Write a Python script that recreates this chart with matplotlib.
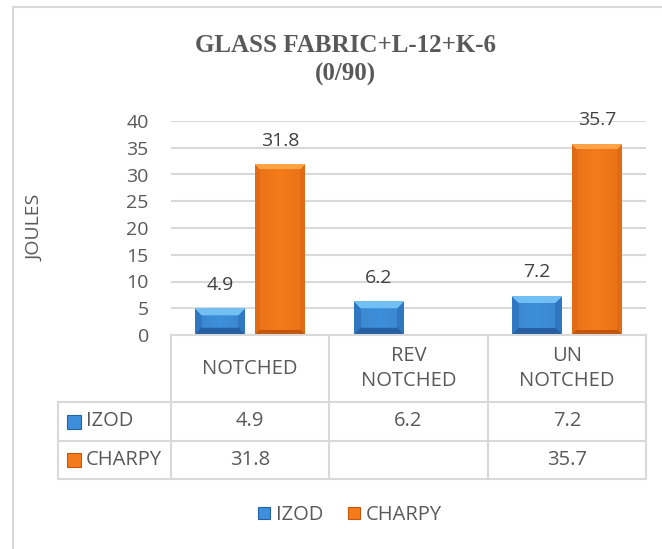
import numpy as np
import matplotlib.pyplot as plt
from matplotlib.patches import Patch, Rectangle
from matplotlib.lines import Line2D

categories = ["NOTCHED", "REV\nNOTCHED", "UN\nNOTCHED"]
series_names = ["IZOD", "CHARPY"]
izod = [4.9, 6.2, 7.2]
charpy = [31.8, None, 35.7]
y_ticks = [0, 5, 10, 15, 20, 25, 30, 35, 40]
title = "GLASS FABRIC+L-12+K-6\n(0/90)"
y_label = "JOULES"

TEXT = "#595959"
GRID = "#D9D9D9"
BLUE = dict(face=(0.24, 0.56, 0.86), top=(0.45, 0.75, 0.96),
            side=(0.19, 0.47, 0.76), bottom=(0.15, 0.38, 0.64))
ORANGE = dict(face=(0.96, 0.48, 0.10), top=(0.99, 0.64, 0.28),
              side=(0.88, 0.42, 0.08), bottom=(0.76, 0.34, 0.05))
series_colors = [BLUE, ORANGE]
bevel_px = [7, 5]

plt.rcParams['font.family'] = ['Open Sans', 'DejaVu Sans']

W, H = 662, 549
fig = plt.figure(figsize=(W / 100, H / 100), dpi=100)


def fx(px):
    return px / W


def fy(py):
    return 1 - py / H


# plot area in pixels
plot_l, plot_r, plot_t, plot_b = 171, 646, 121, 335
ax = fig.add_axes([fx(plot_l), fy(plot_b), (plot_r - plot_l) / W, (plot_b - plot_t) / H])

px_per_unit = (plot_b - plot_t) / y_ticks[-1]
cat_px = (plot_r - plot_l) / len(categories)
bar_w = 50 / cat_px
offset = 30 / cat_px


def bevel_image(w_px, h_px, c, b=7):
    h_px = max(int(round(h_px)), 2)
    w_px = int(round(w_px))
    i = np.arange(h_px)[:, None]
    j = np.arange(w_px)[None, :]
    img = np.empty((h_px, w_px, 3))
    # slight horizontal shading on the face
    u = np.abs(j / (w_px - 1) - 0.5) * 2
    img[:] = np.array(c['face'])[None, None, :] * (1 - 0.06 * u[..., None])
    d_top, d_bot = i + 0 * j, h_px - 1 - i + 0 * j
    d_l, d_r = j + 0 * i, w_px - 1 - j + 0 * i
    dmin = np.minimum(np.minimum(d_top, d_bot), np.minimum(d_l, d_r))
    edge = dmin < b
    img[edge & (d_l == dmin)] = c['side']
    img[edge & (d_r == dmin)] = c['side']
    img[edge & (d_bot == dmin)] = c['bottom']
    img[edge & (d_top == dmin)] = c['top']
    return img


x = np.arange(len(categories))
for k, vals in enumerate([izod, charpy]):
    c = series_colors[k]
    sign = -1 if k == 0 else 1
    for xi, v in zip(x, vals):
        if v is None:
            continue
        xc = xi + sign * offset
        img = bevel_image(50, v * px_per_unit, c, bevel_px[k])
        ax.imshow(img, extent=(xc - bar_w / 2, xc + bar_w / 2, 0, v),
                  aspect='auto', interpolation='bilinear', zorder=3)
        ax.annotate(f"{v:g}", (xc, v), xytext=(0, 11), textcoords='offset points',
                    ha='center', va='bottom', fontsize=14, color="#404040")

ax.set_xlim(-0.5, len(categories) - 0.5)
ax.set_ylim(0, y_ticks[-1])
ax.set_yticks(y_ticks)
ax.set_xticks([])
ax.yaxis.grid(True, color=GRID, lw=1.5)
ax.set_axisbelow(True)
for s in ax.spines.values():
    s.set_visible(False)
ax.tick_params(axis='y', length=0, pad=16, labelsize=14, labelcolor=TEXT)

fig.text(fx(35), fy(228), y_label, rotation=90, ha='center', va='center',
         fontsize=14, color=TEXT)
fig.text(fx(345), fy(60), title, ha='center', va='center', fontsize=18,
         fontweight='bold', family='Liberation Serif', color=TEXT, linespacing=1.3)

# data table under the plot
head_w = (plot_l - 58) / cat_px
tab = fig.add_axes([fx(58), fy(479), (plot_r - 58) / W, (479 - 335) / H])
x0 = -0.5 - head_w
tab.set_xlim(x0, len(categories) - 0.5)
row_edges = [0, 67, 106, 144]
tab.set_ylim(row_edges[-1], 0)
tab.axis('off')

lk = dict(color=GRID, lw=1.5, clip_on=False)
for xb in np.arange(len(categories) + 1) - 0.5:
    tab.add_line(Line2D([xb, xb], [0, row_edges[-1]], **lk))
tab.add_line(Line2D([x0, x0], [row_edges[1], row_edges[-1]], **lk))
tab.add_line(Line2D([-0.5, len(categories) - 0.5], [0, 0], **lk))
for yb in row_edges[1:]:
    tab.add_line(Line2D([x0, len(categories) - 0.5], [yb, yb], **lk))

for xi, cat in zip(x, categories):
    tab.text(xi, (row_edges[0] + row_edges[1]) / 2, cat, ha='center', va='center',
             fontsize=14.5, color=TEXT, linespacing=1.3)

for r, (name, vals) in enumerate(zip(series_names, [izod, charpy])):
    yc = (row_edges[r + 1] + row_edges[r + 2]) / 2
    c = series_colors[r]
    sq = 14 / cat_px
    tab.add_patch(Rectangle((x0 + 9 / cat_px, yc - 7), sq, 14, facecolor=c['face'],
                            edgecolor=c['bottom'], lw=0.8, clip_on=False))
    tab.text(x0 + 28 / cat_px, yc, name, ha='left', va='center', fontsize=14.5, color=TEXT)
    for xi, v in zip(x, vals):
        tab.text(xi, yc, "" if v is None else f"{v:g}", ha='center', va='center',
                 fontsize=14.5, color=TEXT)

handles = [Patch(facecolor=c['face'], edgecolor=c['bottom'], lw=0.8) for c in series_colors]
fig.legend(handles, series_names, loc='center', bbox_to_anchor=(fx(350), fy(515)),
           ncol=2, frameon=False, handlelength=0.6, handleheight=0.6,
           handletextpad=0.3, columnspacing=1.2, fontsize=14.5, labelcolor=TEXT)

# chart outer border (left and top only visible)
fig.add_artist(Line2D([fx(13), fx(13)], [fy(7), 0], color=GRID, lw=1.5))
fig.add_artist(Line2D([fx(13), 1], [fy(7), fy(7)], color=GRID, lw=1.5))

fig.savefig("out.png", dpi=100, facecolor="white")
